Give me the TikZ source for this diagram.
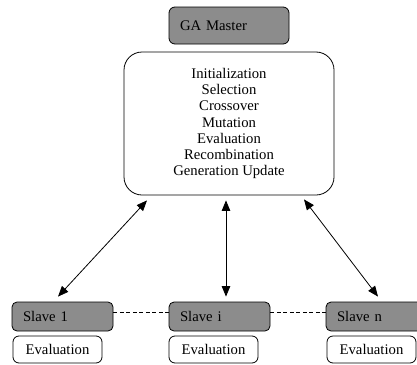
\documentclass[tikz,border=0pt]{standalone}
\usepackage{fontspec}
\setmainfont{Liberation Serif}
\usepackage{tikz}
\usetikzlibrary{arrows.meta}
\definecolor{boxgray}{RGB}{140,140,140}
\tikzset{
	gabox/.style={draw,line width=0.8pt,rounded corners=6pt,fill=boxgray,
		text width=98pt,align=left,inner xsep=11pt,minimum height=37pt},
	workbox/.style={draw,line width=0.8pt,rounded corners=18pt,
		minimum width=210pt,minimum height=143pt,align=center},
	slavebox/.style={draw,line width=0.8pt,rounded corners=5pt,fill=boxgray,
		text width=79pt,align=left,inner xsep=11pt,minimum height=29pt},
	evalbox/.style={draw,line width=0.8pt,rounded corners=6pt,
		minimum width=89pt,minimum height=27pt,inner sep=0pt},
	link/.style={line width=0.8pt,{Triangle[length=10.5pt,width=8.5pt]}-{Triangle[length=10.5pt,width=8.5pt]}},
	peer/.style={line width=0.8pt,dash pattern=on 4pt off 2.5pt}
}
\begin{document}
\begin{tikzpicture}[x=1pt,y=-1pt,font=\fontsize{14.7}{16.3}\selectfont]
			\useasboundingbox (0,0) rectangle (417,364);
			% master
			\node[gabox] (master) at (229,25.5) {GA Master};
			\node[workbox] (work) at (229,123.5) {Initialization\\Selection\\Crossover\\Mutation\\Evaluation\\Recombination\\Generation Update};
			% slaves
			\node[slavebox] (slave1) at (62.5,316.5) {Slave 1};
			\node[slavebox] (slavei) at (219.5,316.5) {Slave i};
			\node[slavebox] (slaven) at (376.5,316.5) {Slave n};
			\node[evalbox] (eval1) at (57.5,349.5) {Evaluation};
			\node[evalbox] (evali) at (213.5,349.5) {Evaluation};
			\node[evalbox] (evaln) at (371.5,349.5) {Evaluation};
			% links
			\draw[link] ([xshift=-82pt,yshift=-5pt]work.south) -- ([xshift=-4.5pt,yshift=5pt]slave1.north);
			\draw[link] ([xshift=-3pt,yshift=-5pt]work.south) -- ([xshift=6.5pt,yshift=5pt]slavei.north);
			\draw[link] ([xshift=75pt,yshift=-4pt]work.south) -- ([xshift=1.5pt,yshift=5pt]slaven.north);
			\draw[peer] ([yshift=4.5pt]slave1.east) -- ([yshift=4.5pt]slavei.west);
			\draw[peer] ([yshift=4.5pt]slavei.east) -- ([yshift=4.5pt]slaven.west);
		\end{tikzpicture}
\end{document}
